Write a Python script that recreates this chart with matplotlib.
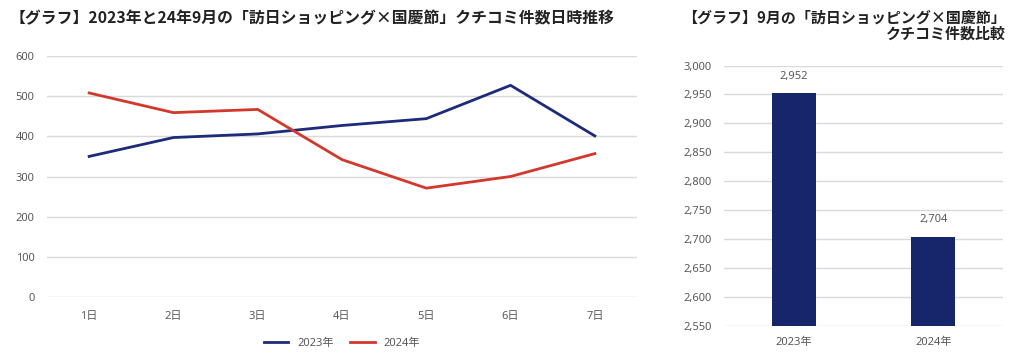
import matplotlib
matplotlib.use('Agg')
from matplotlib import pyplot as plt
from matplotlib.ticker import FuncFormatter

plt.rcParams['font.family'] = ['Noto Sans CJK JP', 'DejaVu Sans']

# Daily word-of-mouth counts, September 1-7
days = ['1日', '2日', '3日', '4日', '5日', '6日', '7日']
counts_2023 = [350, 397, 406, 427, 444, 527, 401]
counts_2024 = [508, 459, 467, 342, 271, 300, 357]

# Totals
years = ['2023年', '2024年']
totals = [2952, 2704]

navy = '#1c2b7a'
red = '#d2382c'
bar_color = '#17266b'
grid_color = '#d9d9d9'
tick_color = '#595959'
tick_font = ['Noto Sans', 'Noto Sans CJK JP']

fig = plt.figure(figsize=(10.24, 3.59), dpi=100)

# Left: line chart
ax1 = fig.add_axes([47/1024, 1 - 297/359, 590/1024, 241/359])
x = range(len(days))
ax1.plot(x, counts_2023, color=navy, lw=2, label='2023年')
ax1.plot(x, counts_2024, color=red, lw=2, label='2024年')
ax1.set_xlim(-0.5, len(days) - 0.5)
ax1.set_ylim(0, 600)
ax1.set_yticks(range(0, 601, 100))
ax1.set_xticks(list(x))
ax1.set_xticklabels(days)
ax1.yaxis.grid(True, color=grid_color, lw=1)
ax1.set_axisbelow(True)
for sp in ax1.spines.values():
    sp.set_visible(False)
ax1.tick_params(length=0, colors=tick_color, labelsize=8)
ax1.tick_params(axis='x', pad=10)
ax1.tick_params(axis='y', pad=9)
for lab in ax1.get_xticklabels() + ax1.get_yticklabels():
    lab.set_family(tick_font)
ax1.legend(loc='upper center', bbox_to_anchor=(0.5, -0.13), ncol=2,
           frameon=False, prop={'family': tick_font, 'size': 8}, labelcolor=tick_color,
           handlelength=2.2, columnspacing=1.5)
fig.text(10/1024, 1 - 18/359, '【グラフ】2023年と24年9月の「訪日ショッピング×国慶節」クチコミ件数日時推移',
         fontsize=11.4, fontweight='bold', va='center', ha='left', color='#222222')

# Right: bar chart
ax2 = fig.add_axes([724/1024, 1 - 325.5/359, 279/1024, 260/359])
bx = range(len(years))
bars = ax2.bar(bx, totals, width=0.315, color=bar_color)
ax2.set_xlim(-0.5, len(years) - 0.5)
ax2.set_ylim(2550, 3000)
ax2.set_yticks(range(2550, 3001, 50))
ax2.yaxis.set_major_formatter(FuncFormatter(lambda v, p: f'{int(v):,}'))
ax2.set_xticks(list(bx))
ax2.set_xticklabels(years)
ax2.yaxis.grid(True, color=grid_color, lw=1)
ax2.set_axisbelow(True)
for sp in ax2.spines.values():
    sp.set_visible(False)
ax2.tick_params(length=0, colors=tick_color, labelsize=8)
ax2.tick_params(axis='x', pad=8)
ax2.tick_params(axis='y', pad=9)
for lab in ax2.get_xticklabels() + ax2.get_yticklabels():
    lab.set_family(tick_font)
for b, v in zip(bars, totals):
    ax2.annotate(f'{v:,}', (b.get_x() + b.get_width() / 2, v),
                 xytext=(0, 8), textcoords='offset points',
                 ha='center', va='bottom', fontsize=8, color=tick_color,
                 family=tick_font)
fig.text(1006/1024, 1 - 18/359, '【グラフ】9月の「訪日ショッピング×国慶節」',
         fontsize=10.8, fontweight='bold', va='center', ha='right', color='#222222')
fig.text(1006/1024, 1 - 34/359, 'クチコミ件数比較',
         fontsize=10.8, fontweight='bold', va='center', ha='right', color='#222222')

fig.savefig('out.png', dpi=100, facecolor='white')
